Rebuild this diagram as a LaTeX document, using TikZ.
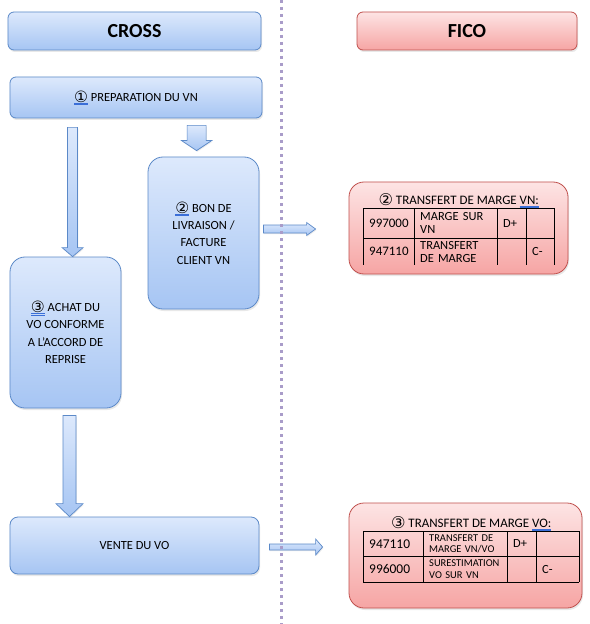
\documentclass[tikz,border=0pt]{standalone}
\usepackage{fontspec}
\setmainfont{Carlito}
\newfontfamily\circfont{DejaVu Sans}
\usetikzlibrary{positioning, matrix, shadows, calc}

\definecolor{crossfill}{HTML}{DDE9FC}
\definecolor{crossshade}{HTML}{A6C5F3}
\definecolor{crossline}{HTML}{5B89C8}
\definecolor{ficofill}{HTML}{FDE4E4}
\definecolor{ficoshade}{HTML}{F6A5A4}
\definecolor{ficoline}{HTML}{C0504D}
\definecolor{sepcolor}{HTML}{A99CC9}
\definecolor{spellblue}{HTML}{3B6FD8}

\newsavebox\spellbox
\newcommand\spellmark[1]{\sbox\spellbox{#1}%
  \rlap{\color{spellblue}\rule[-2.2bp]{\wd\spellbox}{0.45bp}}%
  \rlap{\color{spellblue}\rule[-3.4bp]{\wd\spellbox}{0.45bp}}%
  \usebox\spellbox}
\newcommand\numcirc[1]{\raisebox{-0.08em}{\scalebox{1.25}{\circfont #1}}}

\tikzset{
  crossbox/.style={draw=crossline, line width=0.8bp, inner sep=0pt, align=center,
    top color=crossfill, bottom color=crossshade,
    drop shadow={shadow xshift=1bp, shadow yshift=-2bp, opacity=0.18}},
  ficobox/.style={draw=ficoline, line width=0.8bp, inner sep=0pt, align=center,
    top color=ficofill, bottom color=ficoshade,
    drop shadow={shadow xshift=1bp, shadow yshift=-2bp, opacity=0.18}},
  headtext/.style={font=\bfseries\fontsize{20}{24}\selectfont},
  boxtext/.style={font=\fontsize{12.5}{17.5}\selectfont},
  arrowfill/.style={draw=crossline, line width=0.7bp, top color=crossfill, bottom color=crossshade,
    drop shadow={shadow xshift=0.8bp, shadow yshift=-1.2bp, opacity=0.15}},
  down arrow/.style n args={3}{to path={let \p1=(\tikztostart), \p2=(\tikztotarget) in
    (\x1-#1,\y1) -- (\x1+#1,\y1) -- (\x1+#1,\y2+#3) -- (\x1+#2,\y2+#3)
    -- (\x1,\y2) -- (\x1-#2,\y2+#3) -- (\x1-#1,\y2+#3) -- cycle}},
  right arrow/.style n args={3}{to path={let \p1=(\tikztostart), \p2=(\tikztotarget) in
    (\x1,\y1+#1) -- (\x2-#3,\y1+#1) -- (\x2-#3,\y1+#2) -- (\x2,\y1)
    -- (\x2-#3,\y1-#2) -- (\x2-#3,\y1-#1) -- (\x1,\y1-#1) -- cycle}},
  tablecells/.style={matrix of nodes, nodes in empty cells, anchor=north west, inner sep=0pt,
    column sep=0pt, row sep=0pt,
    nodes={anchor=center, inner xsep=6bp, inner ysep=0pt, align=left}},
  titletext/.style={font=\fontsize{13}{15}\selectfont, inner sep=0pt},
  tablerule/.style={line width=0.8bp, black},
  sepdots/.style={sepcolor, line width=3bp, dash pattern=on 3bp off 4bp}
}

\begin{document}
\begin{tikzpicture}[x=1bp, y=-1bp]

\path[use as bounding box, fill=white] (0,0) rectangle (590,624);

% Headers
\node (cross) [crossbox, headtext, rounded corners=6bp, minimum width=253bp, minimum height=38bp] at (134.5,31) {CROSS};
\node (fico) [ficobox, headtext, rounded corners=6bp, minimum width=220bp, minimum height=38bp] at (467,31) {FICO};

% CROSS steps
\node (prep) [crossbox, boxtext, rounded corners=6bp, minimum width=252bp, minimum height=41bp] at (136,97.5) {\spellmark{\numcirc{①}} PREPARATION DU VN};
\node (bon) [crossbox, boxtext, rounded corners=15bp, minimum width=111bp, minimum height=152bp] at (203.5,233) {\spellmark{\numcirc{②}} BON DE\\LIVRAISON /\\FACTURE\\CLIENT VN};
\node (achat) [crossbox, boxtext, rounded corners=15bp, minimum width=111bp, minimum height=151bp] at (65.5,332.5) {\spellmark{\numcirc{③}} ACHAT DU\\VO CONFORME\\A L’ACCORD DE\\REPRISE};
\node (vente) [crossbox, boxtext, rounded corners=8bp, minimum width=249bp, minimum height=57bp] at (134.5,545.5) {VENTE DU VO};

% FICO entries
\node (fico2) [ficobox, rounded corners=15bp, minimum width=219bp, minimum height=92bp] at (458.5,228) {};
\node (fico3) [ficobox, rounded corners=15bp, minimum width=233bp, minimum height=105bp] at (465.5,555.5) {};

\matrix (t2) [tablecells,
  row 1/.style={nodes={minimum height=30bp}},
  row 2/.style={nodes={minimum height=27bp}},
  column 1/.style={nodes={text width=39bp, font=\fontsize{13}{13}\selectfont}},
  column 2/.style={nodes={text width=71bp, font=\fontsize{12.5}{13}\selectfont}},
  column 3/.style={nodes={text width=17bp, font=\fontsize{12.5}{13}\selectfont}},
  column 4/.style={nodes={text width=16bp, font=\fontsize{12.5}{13}\selectfont}}] at (363,208) {
  997000 & MARGE SUR\newline VN & D+ & \\
  947110 & TRANSFERT\newline DE MARGE & & C-\\
};
\node (t2title) [titletext, above=4bp of t2, anchor=base] {\numcirc{②} TRANSFERT DE MARGE \spellmark{VN:}};

\matrix (t3) [tablecells,
  row 1/.style={nodes={minimum height=25bp}},
  row 2/.style={nodes={minimum height=26bp}},
  column 1/.style={nodes={text width=48bp, font=\fontsize{13.5}{14}\selectfont}},
  column 2/.style={nodes={text width=72bp, font=\fontsize{10.5}{11.5}\selectfont}},
  column 3/.style={nodes={text width=17bp, font=\fontsize{12.5}{13}\selectfont}},
  column 4/.style={nodes={text width=31bp, font=\fontsize{12.5}{13}\selectfont}}] at (363,531) {
  947110 & TRANSFERT DE\newline MARGE VN/VO & D+ & \\
  996000 & SURESTIMATION\newline VO SUR VN & & C-\\
};
\node (t3title) [titletext, above=3.8bp of t3, anchor=base] {\numcirc{③} TRANSFERT DE MARGE \spellmark{VO:}};

% Table rules
\draw[tablerule] (t2-1-1.north west) -- (t2-1-4.north east)
                 (t2-2-1.north west) -- (t2-2-4.north east);
\foreach \c in {1,...,4}
  \draw[tablerule] (t2-1-\c.north west) -- (t2-2-\c.south west);
\draw[tablerule] (t2-1-4.north east) -- (t2-2-4.south east);

\draw[tablerule] (t3-1-1.north west) -- (t3-1-4.north east)
                 (t3-2-1.north west) -- (t3-2-4.north east)
                 (t3-2-1.south west) -- (t3-2-4.south east);
\foreach \c in {1,...,4}
  \draw[tablerule] (t3-1-\c.north west) -- (t3-2-\c.south west);
\draw[tablerule] (t3-1-4.north east) -- (t3-2-4.south east);

% Arrows
\draw[arrowfill] ($(prep.south west)+(63,9)$) to[down arrow={5bp}{10.5bp}{9bp}] (achat.north);
\draw[arrowfill] ($(prep.south west)+(187,7)$) to[down arrow={9.5bp}{15bp}{10bp}] ($(bon.north)+(0,-6)$);
\draw[arrowfill] ($(achat.south)+(4,7)$) to[down arrow={6.5bp}{13.5bp}{13bp}] (vente.north);
\draw[arrowfill] ($(bon.east)+(4,-4)$) to[right arrow={4bp}{6.5bp}{9bp}] ($(fico2.west)+(-33,0)$);
\draw[arrowfill] ($(vente.east)+(10,1.5)$) to[right arrow={3bp}{8bp}{7bp}] ($(fico3.west)+(-26,0)$);

% Separator
\draw[sepdots] (281,0) -- (281,624);

\end{tikzpicture}
\end{document}
